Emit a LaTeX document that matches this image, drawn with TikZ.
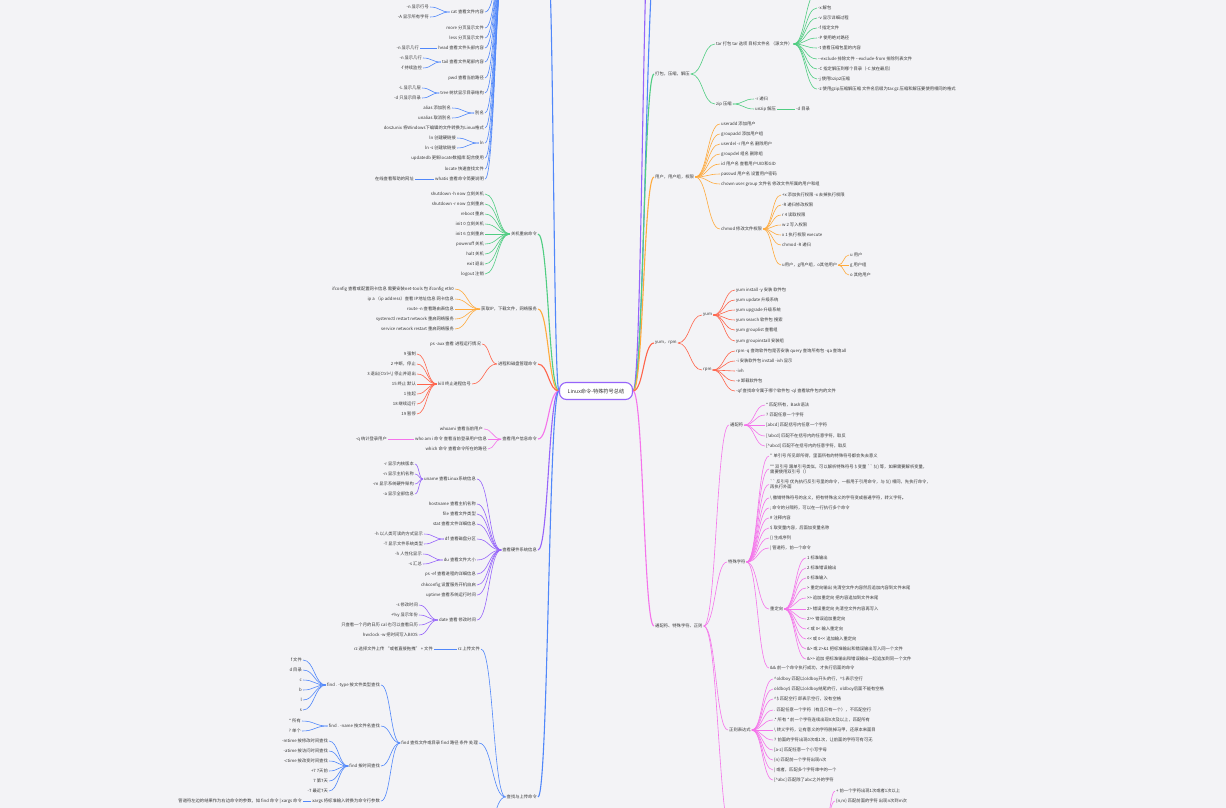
\documentclass[tikz,border=0pt]{standalone}
\usepackage{fontspec}
\setmainfont{Noto Sans CJK SC}[Ligatures=TeXOff]
\usetikzlibrary{calc}
\definecolor{bgc}{RGB}{243,243,246}
\definecolor{txt}{RGB}{55,55,55}
\definecolor{cblue}{RGB}{80,135,250}
\definecolor{cgreen}{RGB}{80,205,130}
\definecolor{corange}{RGB}{255,170,60}
\definecolor{cred}{RGB}{255,100,75}
\definecolor{cpink}{RGB}{245,115,235}
\definecolor{cpurple}{RGB}{150,100,250}
\pgfdeclarelayer{back}
\pgfsetlayers{back,main}
\begin{document}
\begin{tikzpicture}[x=1pt,y=-1pt,
 lbl/.style={font=\fontsize{4.3}{5.2}\selectfont, text=txt, inner sep=1pt},
 le/.style={lbl,anchor=east},
 ri/.style={lbl,anchor=west},
 rootbox/.style={draw=cpurple, line width=1.1pt, rounded corners=7pt, fill=white, minimum width=73pt, minimum height=17pt, font=\fontsize{5.2}{6}\selectfont, text=txt, inner sep=1pt},
 fan/.style={to path={let \p1=(\tikztostart),\p2=(\tikztotarget),\n1={(\x2-\x1)/2} in .. controls (\x1+\n1,\y1) and (\x2-\n1,\y2) .. (\tikztotarget)}},
 subl/.style={line width=0.6pt},
 mainl/.style={line width=1.1pt},
]
\useasboundingbox (0,0) rectangle (1226,807);
\clip (0,0) rectangle (1226,807);
\begin{pgfonlayer}{back}
\fill[bgc] (-5,-5) rectangle (1231,812);
\end{pgfonlayer}

% ---------------- root
\node[rootbox] (root) at (596,391) {Linux命令-特殊符号总结};

% ---------------- left main labels
\coordinate (tbR) at (548,-40);
\coordinate (tbL) at (505,-40);
\node[le] (Lg) at (538,234) {关机重启命令};
\node[le] (Lo) at (538,309) {获取IP，下载文件，网络服务};
\node[le] (Lr) at (538,364) {进程和磁盘管理命令};
\node[le] (Lp) at (538,439) {查看用户信息命令};
\node[le] (Lu) at (538,550) {查看硬件系统信息};
\node[le] (Lb) at (538,797) {查找与上传命令};

% ---------------- right main labels
\coordinate (rtP) at (652,-120);
\coordinate (rtB) at (658,-70);
\node[ri] (Rg) at (654,74) {打包，压缩，解压};
\node[ri] (Ro) at (654,177) {用户，用户组，权限};
\node[ri] (Rr) at (654,343) {yum，rpm};
\node[ri] (Rp) at (654,626) {通配符、特殊字符、正则};

% ---------------- top-left blue group
\node[le] (tb1) at (485,12) {cat 查看文件内容};
\node[le] (tb1a) at (430,7) {-n 显示行号};
\node[le] (tb1b) at (430,17) {-A 显示所有字符};
\node[le] (tb2) at (485,28) {more 分页显示文件};
\node[le] (tb3) at (485,38) {less 分页显示文件};
\node[le] (tb4) at (485,48) {head 查看文件头部内容};
\node[le] (tb4a) at (420,48) {-n 显示几行};
\node[le] (tb5) at (485,62) {tail 查看文件尾部内容};
\node[le] (tb5a) at (423,58) {-n 显示几行};
\node[le] (tb5b) at (423,68) {-f 持续监控};
\node[le] (tb6) at (485,78) {pwd 查看当前路径};
\node[le] (tb7) at (485,93) {tree 树状显示目录结构};
\node[le] (tb7a) at (422,88) {-L 显示几层};
\node[le] (tb7b) at (422,98) {-d 只显示目录};
\node[le] (tb8) at (485,113) {别名};
\node[le] (tb8a) at (452,108) {alias 添加别名};
\node[le] (tb8b) at (452,118) {unalias 取消别名};
\node[le] (tb9) at (485,128) {dos2unix 将Windows下编辑的文件转换为Linux格式};
\node[le] (tb10) at (485,143) {ln};
\node[le] (tb10a) at (457,138) {ln 创建硬链接};
\node[le] (tb10b) at (457,148) {ln -s 创建软链接};
\node[le] (tb11) at (485,158) {updatedb 更新locate数据库 配合使用};
\node[le] (tb12) at (485,169) {locate 快速查找文件};
\node[le] (tb13) at (485,179) {whatis 查看命令简要说明};
\node[le] (tb13a) at (415,179) {在线查看帮助的网址};

% ---------------- green left
\node[le] (g1) at (485,194) {shutdown -h now 立刻关机};
\node[le] (g2) at (485,204) {shutdown -r now 立刻重启};
\node[le] (g3) at (485,214) {reboot 重启};
\node[le] (g4) at (485,224) {init 0 立刻关机};
\node[le] (g5) at (485,234) {init 6 立刻重启};
\node[le] (g6) at (485,244) {poweroff 关机};
\node[le] (g7) at (485,254) {halt 关机};
\node[le] (g8) at (485,264) {exit 退出};
\node[le] (g9) at (485,274) {logout 注销};

% ---------------- orange left
\node[le] (o1) at (455,289) {ifconfig 查看或配置网卡信息 需要安装net-tools 包 ifconfig eth0};
\node[le] (o2) at (455,299) {ip a （ip address）查看 IP地址信息 网卡信息};
\node[le] (o3) at (455,309) {route -n 查看路由表信息};
\node[le] (o4) at (455,319) {systemctl restart network 重启网络服务};
\node[le] (o5) at (455,329) {service network restart 重启网络服务};

% ---------------- red left
\node[le] (r1) at (482,344) {ps -aux 查看 进程运行情况};
\node[le] (r2) at (472,384) {kill 终止进程信号};
\node[le] (r2a) at (417,354) {9 强制};
\node[le] (r2b) at (417,364) {2 中断，停止};
\node[le] (r2c) at (417,374) {3 退出(Ctrl+\textbackslash) 停止并退出};
\node[le] (r2d) at (417,384) {15 终止 默认};
\node[le] (r2e) at (417,394) {1 挂起};
\node[le] (r2f) at (417,404) {18 继续运行};
\node[le] (r2g) at (417,414) {19 暂停};

% ---------------- pink left
\node[le] (pl1) at (484,429) {whoami 查看当前用户};
\node[le] (pl2) at (488,439) {who am i 命令 查看当前登录用户信息};
\node[le] (pl2a) at (388,439) {-q 统计登录用户};
\node[le] (pl3) at (488,449) {which 命令 查看命令所在的路径};

% ---------------- purple left
\node[le] (u1) at (477,479) {uname 查看Linux系统信息};
\node[le] (u1a) at (415,464) {-r 显示内核版本};
\node[le] (u1b) at (415,474) {-n 显示主机名称};
\node[le] (u1c) at (415,484) {-m 显示系统硬件架构};
\node[le] (u1d) at (415,494) {-a 显示全部信息};
\node[le] (u2) at (477,504) {hostname 查看主机名称};
\node[le] (u3) at (477,514) {file 查看文件类型};
\node[le] (u4) at (477,524) {stat 查看文件详细信息};
\node[le] (u5) at (477,539) {df 查看磁盘分区};
\node[le] (u5a) at (424,534) {-h 以人类可读的方式显示};
\node[le] (u5b) at (424,544) {-T 显示文件系统类型};
\node[le] (u6) at (477,560) {du 查看文件大小};
\node[le] (u6a) at (423,554) {-h 人性化显示};
\node[le] (u6b) at (423,564) {-s 汇总};
\node[le] (u7) at (477,574) {ps -ef 查看进程的详细信息};
\node[le] (u8) at (477,585) {chkconfig 设置服务开机自启};
\node[le] (u9) at (477,595) {uptime 查看系统运行时间};
\node[le] (u10) at (477,620) {date 查看 修改时间};
\node[le] (u10a) at (419,605) {-s 修改时间};
\node[le] (u10b) at (419,615) {+\%y 显示年份};
\node[le] (u10c) at (419,625) {只查看一个月的日历 cal 也可以查看日历};
\node[le] (u10d) at (419,635) {hwclock -w 把时间写入BIOS};

% ---------------- blue bottom left
\node[le] (bb1) at (481,649) {rz 上传文件};
\node[le] (bb1a) at (434,649) {rz 选择文件上传 “或者直接拖拽” + 文件};
\node[le] (bb2) at (479,743) {find 查找文件或目录 find 路径 条件 处理};
\node[le] (bb2a) at (381,685) {find . -type 按文件类型查找};
\node[le] (ty1) at (303,660) {f 文件};
\node[le] (ty2) at (303,670) {d 目录};
\node[le] (ty3) at (303,680) {c};
\node[le] (ty4) at (303,690) {b};
\node[le] (ty5) at (303,700) {l};
\node[le] (ty6) at (303,710) {s};
\node[le] (bb2b) at (381,726) {find . -name 按文件名查找};
\node[le] (nm1) at (302,721) {* 所有};
\node[le] (nm2) at (302,731) {? 单个};
\node[le] (bb2c) at (381,766) {find 按时间查找};
\node[le] (tm1) at (329,741) {-mtime 按修改时间查找};
\node[le] (tm2) at (329,751) {-atime 按访问时间查找};
\node[le] (tm3) at (329,761) {-ctime 按改变时间查找};
\node[le] (tm4) at (329,771) {+7 7天前};
\node[le] (tm5) at (329,781) {7 第7天};
\node[le] (tm6) at (329,791) {-7 最近7天};
\node[le] (bb2d) at (381,801) {xargs 将标准输入转换为命令行参数};
\node[le] (bb2da) at (303,801) {管道符左边的结果作为右边命令的参数，如 find 命令 | xargs 命令};
\coordinate (bb3) at (482,840);

% ---------------- green right
\node[ri] (gt) at (715,44) {tar 打包 tar 选项 目标文件名 （源文件）};
\coordinate (t1) at (817,-8);
\node[ri] (t2) at (817,8) {-x 解包};
\node[ri] (t3) at (817,18) {-v 显示详细过程};
\node[ri] (t4) at (817,28) {-f 指定文件};
\node[ri] (t5) at (817,38) {-P 使用绝对路径};
\node[ri] (t6) at (817,48) {-t 查看压缩包里的内容};
\node[ri] (t7) at (817,59) {--exclude 排除文件 --exclude-from 排除列表文件};
\node[ri] (t8) at (817,69) {-C 指定解压到哪个目录（-C 放在最后）};
\node[ri] (t9) at (817,79) {-j 使用bzip2压缩};
\node[ri] (t10) at (817,89) {-z 使用gzip压缩解压缩 文件名后缀为tar.gz 压缩和解压要使用相同的格式};
\node[ri] (gz) at (715,104) {zip 压缩};
\node[ri] (gz1) at (754,99) {-r 递归};
\node[ri] (gz2) at (754,109) {unzip 解压};
\node[ri] (gz2a) at (795,109) {-d 目录};

% ---------------- orange right
\node[ri] (ou1) at (720,124) {useradd 添加用户};
\node[ri] (ou2) at (720,134) {groupadd 添加用户组};
\node[ri] (ou3) at (720,144) {userdel -r 用户名 删除用户};
\node[ri] (ou4) at (720,154) {groupdel 组名 删除组};
\node[ri] (ou5) at (720,164) {id 用户名 查看用户UID和GID};
\node[ri] (ou6) at (720,174) {passwd 用户名 设置用户密码};
\node[ri] (ou7) at (720,184) {chown user:group 文件名 修改文件所属的用户和组};
\node[ri] (ou8) at (720,229) {chmod 修改文件权限};
\node[ri] (cm1) at (781,195) {+x 添加执行权限 -x 去掉执行权限};
\node[ri] (cm2) at (781,205) {-R 递归修改权限};
\node[ri] (cm3) at (781,215) {r 4 读取权限};
\node[ri] (cm4) at (781,225) {w 2 写入权限};
\node[ri] (cm5) at (781,235) {x 1 执行权限 execute};
\node[ri] (cm6) at (781,245) {chmod -R 递归};
\node[ri] (cm7) at (781,265) {u用户，g用户组，o其他用户};
\node[ri] (ug1) at (849,255) {u 用户};
\node[ri] (ug2) at (849,265) {g 用户组};
\node[ri] (ug3) at (849,275) {o 其他用户};

% ---------------- red right
\node[ri] (yum) at (702,315) {yum};
\node[ri] (rpm) at (702,370) {rpm};
\node[ri] (y1) at (735,290) {yum install -y 安装 软件包};
\node[ri] (y2) at (735,300) {yum update 升级系统};
\node[ri] (y3) at (735,310) {yum upgrade 升级系统};
\node[ri] (y4) at (735,320) {yum search 软件包 搜索};
\node[ri] (y5) at (735,330) {yum grouplist 查看组};
\node[ri] (y6) at (735,341) {yum groupinstall 安装组};
\node[ri] (rp1) at (735,351) {rpm -q 查询软件包是否安装 query 查询所有包 -qa 查询all};
\node[ri] (rp2) at (735,361) {-i 安装软件包 install -ivh 显示};
\node[ri] (rp3) at (735,371) {-ivh};
\node[ri] (rp4) at (735,381) {-e 卸载软件包};
\node[ri] (rp5) at (735,391) {-qf 查找命令属于哪个软件包 -ql 查看软件包内的文件};

% ---------------- pink right
\node[ri] (w1) at (729,425) {通配符};
\node[ri] (w2) at (727,562) {特殊字符};
\node[ri] (w3) at (728,730) {正则表达式};
\coordinate (w4L) at (733,840);
\coordinate (w4R) at (826,818);
\node[ri] (wc1) at (765,405) {* 匹配所有，Bash语法};
\node[ri] (wc2) at (765,415) {? 匹配任意一个字符};
\node[ri] (wc3) at (765,425) {[abcd] 匹配括号内任意一个字符};
\node[ri] (wc4) at (765,436) {[!abcd] 匹配不在括号内的任意字符，取反};
\node[ri] (wc5) at (765,446) {[\^{}abcd] 匹配不在括号内的任意字符，取反};
\node[ri] (s1) at (769,456) {'' 单引号 所见即所得，里面所有的特殊符号都会失去意义};
\node[ri,align=left] (s2) at (769,469) {"" 双引号 跟单引号类似，可以解析特殊符号 \$ 变量 `` \$() 等，如果需要解析变量，\\需要使用双引号（）};
\node[ri,align=left] (s3) at (769,484.5) {`` 反引号 优先执行反引号里的命令，一般用于引用命令，与 \$() 相同，先执行命令，\\再执行外面};
\node[ri] (s4) at (769,498) {\textbackslash{} 撤销特殊符号的含义，把有特殊含义的字符变成普通字符，转义字符。};
\node[ri] (s5) at (769,508) {; 命令的分隔符，可以在一行执行多个命令};
\node[ri] (s6) at (769,518) {\# 注释内容};
\node[ri] (s7) at (769,528) {\$ 取变量内容，后面加变量名称};
\node[ri] (s8) at (769,538) {\{\} 生成序列};
\node[ri] (s9) at (769,548) {| 管道符，前一个命令};
\node[ri] (s10) at (769,609) {重定向};
\node[ri] (s11) at (769,668) {\&\& 前一个命令执行成功，才执行后面的命令};
\node[ri] (rd1) at (806,558) {1 标准输出};
\node[ri] (rd2) at (806,568) {2 标准错误输出};
\node[ri] (rd3) at (806,578) {0 标准输入};
\node[ri] (rd4) at (806,588) {> 重定向输出 先清空文件内容然后追加内容到文件末尾};
\node[ri] (rd5) at (806,598) {>> 追加重定向 把内容追加到文件末尾};
\node[ri] (rd6) at (806,609) {2> 错误重定向 先清空文件内容再写入};
\node[ri] (rd7) at (806,619) {2>> 错误追加重定向};
\node[ri] (rd8) at (806,629) {< 或 0< 输入重定向};
\node[ri] (rd9) at (806,639) {<< 或 0<< 追加输入重定向};
\node[ri] (rd10) at (806,649) {\&> 或 2>\&1 把标准输出和错误输出写入同一个文件};
\node[ri] (rd11) at (806,659) {\&>> 追加 把标准输出和错误输出一起追加到同一个文件};
\node[ri] (re1) at (773,679) {\^{}oldboy 匹配以oldboy开头的行，\^{}\$ 表示空行};
\node[ri] (re2) at (773,689) {oldboy\$ 匹配以oldboy结尾的行，oldboy后面不能有空格};
\node[ri] (re3) at (773,699) {\^{}\$ 匹配空行 即表示空行，没有空格};
\node[ri] (re4) at (773,710) {. 匹配任意一个字符（有且只有一个），不匹配空行};
\node[ri] (re5) at (773,720) {.* 所有 * 前一个字符连续出现0次及以上，匹配所有};
\node[ri] (re6) at (773,730) {\textbackslash{} 转义字符，让有意义的字符脱掉马甲，还原本来面目};
\node[ri] (re7) at (773,740) {? 前面的字符出现0次或1次，让前面的字符可有可无};
\node[ri] (re8) at (773,750) {[a-z] 匹配任意一个小写字母};
\node[ri] (re9) at (773,760) {\{n\} 匹配前一个字符出现n次};
\node[ri] (re10) at (773,770) {| 或者，匹配多个字符串中的一个};
\node[ri] (re11) at (773,780) {[\^{}abc] 匹配除了abc之外的字符};
\node[ri] (ex1) at (835,791) {+ 前一个字符出现1次或者1次以上};
\node[ri] (ex2) at (835,801) {\{n,m\} 匹配前面的字符 出现n次到m次};

% ================= connectors
\begin{pgfonlayer}{back}
% main branches
\draw[mainl,cblue] (root.west) to[fan] (tbR);
\draw[mainl,cgreen] (root.west) to[fan] (Lg.east);
\draw[mainl,corange] (root.west) to[fan] (Lo.east);
\draw[mainl,cred] (root.west) to[fan] (Lr.east);
\draw[mainl,cpink] (root.west) to[fan] (Lp.east);
\draw[mainl,cpurple] (root.west) to[fan] (Lu.east);
\draw[mainl,cblue] (root.west) to[fan] (Lb.east);
\draw[mainl,cpurple] (root.east) to[fan] (rtP);
\draw[mainl,cblue] (root.east) to[fan] (rtB);
\draw[mainl,cgreen] (root.east) to[fan] (Rg.west);
\draw[mainl,corange] (root.east) to[fan] (Ro.west);
\draw[mainl,cred] (root.east) to[fan] (Rr.west);
\draw[mainl,cpink] (root.east) to[fan] (Rp.west);

% top-left blue
\foreach \c in {tb1,tb2,tb3,tb4,tb5,tb6,tb7,tb8,tb9,tb10,tb11,tb12,tb13}
  \draw[subl,cblue] (tbL) to[fan] (\c.east);
\foreach \p/\c in {tb1/tb1a,tb1/tb1b,tb4/tb4a,tb5/tb5a,tb5/tb5b,tb7/tb7a,tb7/tb7b,tb8/tb8a,tb8/tb8b,tb10/tb10a,tb10/tb10b,tb13/tb13a}
  \draw[subl,cblue] (\p.west) to[fan] (\c.east);

% green left
\foreach \c in {g1,g2,g3,g4,g5,g6,g7,g8,g9}
  \draw[subl,cgreen] (Lg.west) to[fan] (\c.east);
% orange left
\foreach \c in {o1,o2,o3,o4,o5}
  \draw[subl,corange] (Lo.west) to[fan] (\c.east);
% red left
\foreach \c in {r1,r2}
  \draw[subl,cred] (Lr.west) to[fan] (\c.east);
\foreach \c in {r2a,r2b,r2c,r2d,r2e,r2f,r2g}
  \draw[subl,cred] (r2.west) to[fan] (\c.east);
% pink left
\foreach \c in {pl1,pl2,pl3}
  \draw[subl,cpink] (Lp.west) to[fan] (\c.east);
\draw[subl,cpink] (pl2.west) to[fan] (pl2a.east);
% purple left
\foreach \c in {u1,u2,u3,u4,u5,u6,u7,u8,u9,u10}
  \draw[subl,cpurple] (Lu.west) to[fan] (\c.east);
\foreach \p/\c in {u1/u1a,u1/u1b,u1/u1c,u1/u1d,u5/u5a,u5/u5b,u6/u6a,u6/u6b,u10/u10a,u10/u10b,u10/u10c,u10/u10d}
  \draw[subl,cpurple] (\p.west) to[fan] (\c.east);
% blue bottom left
\foreach \c in {bb1,bb2}
  \draw[subl,cblue] (Lb.west) to[fan] (\c.east);
\draw[subl,cblue] (Lb.west) to[fan] (bb3);
\draw[subl,cblue] (bb1.west) to[fan] (bb1a.east);
\foreach \c in {bb2a,bb2b,bb2c,bb2d}
  \draw[subl,cblue] (bb2.west) to[fan] (\c.east);
\foreach \c in {ty1,ty2,ty3,ty4,ty5,ty6}
  \draw[subl,cblue] (bb2a.west) to[fan] (\c.east);
\foreach \c in {nm1,nm2}
  \draw[subl,cblue] (bb2b.west) to[fan] (\c.east);
\foreach \c in {tm1,tm2,tm3,tm4,tm5,tm6}
  \draw[subl,cblue] (bb2c.west) to[fan] (\c.east);
\draw[subl,cblue] (bb2d.west) to[fan] (bb2da.east);

% green right
\foreach \c in {gt,gz}
  \draw[subl,cgreen] (Rg.east) to[fan] (\c.west);
\draw[subl,cgreen] (gt.east) to[fan] (t1);
\foreach \c in {t2,t3,t4,t5,t6,t7,t8,t9,t10}
  \draw[subl,cgreen] (gt.east) to[fan] (\c.west);
\foreach \c in {gz1,gz2}
  \draw[subl,cgreen] (gz.east) to[fan] (\c.west);
\draw[subl,cgreen] (gz2.east) to[fan] (gz2a.west);
% orange right
\foreach \c in {ou1,ou2,ou3,ou4,ou5,ou6,ou7,ou8}
  \draw[subl,corange] (Ro.east) to[fan] (\c.west);
\foreach \c in {cm1,cm2,cm3,cm4,cm5,cm6,cm7}
  \draw[subl,corange] (ou8.east) to[fan] (\c.west);
\foreach \c in {ug1,ug2,ug3}
  \draw[subl,corange] (cm7.east) to[fan] (\c.west);
% red right
\foreach \c in {yum,rpm}
  \draw[subl,cred] (Rr.east) to[fan] (\c.west);
\foreach \c in {y1,y2,y3,y4,y5,y6}
  \draw[subl,cred] (yum.east) to[fan] (\c.west);
\foreach \c in {rp1,rp2,rp3,rp4,rp5}
  \draw[subl,cred] (rpm.east) to[fan] (\c.west);
% pink right
\foreach \c in {w1,w2,w3}
  \draw[subl,cpink] (Rp.east) to[fan] (\c.west);
\draw[subl,cpink] (Rp.east) to[fan] (w4L);
\foreach \c in {wc1,wc2,wc3,wc4,wc5}
  \draw[subl,cpink] (w1.east) to[fan] (\c.west);
\foreach \c in {s1,s2,s3,s4,s5,s6,s7,s8,s9,s10,s11}
  \draw[subl,cpink] (w2.east) to[fan] (\c.west);
\foreach \c in {rd1,rd2,rd3,rd4,rd5,rd6,rd7,rd8,rd9,rd10,rd11}
  \draw[subl,cpink] (s10.east) to[fan] (\c.west);
\foreach \c in {re1,re2,re3,re4,re5,re6,re7,re8,re9,re10,re11}
  \draw[subl,cpink] (w3.east) to[fan] (\c.west);
\foreach \c in {ex1,ex2}
  \draw[subl,cpink] (w4R) to[fan] (\c.west);
\end{pgfonlayer}
\end{tikzpicture}
\end{document}
